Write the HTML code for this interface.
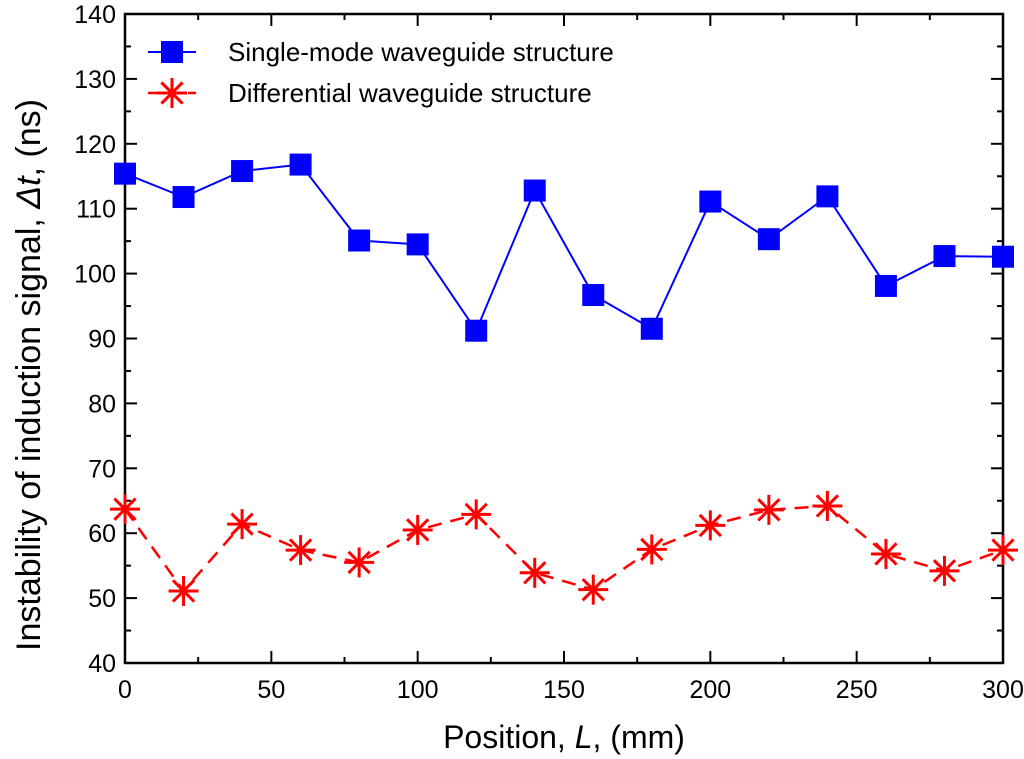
<!DOCTYPE html>
<html><head><meta charset="utf-8"><style>body{margin:0;background:#fff}svg{display:block}text{font-family:"Liberation Sans",sans-serif}</style></head>
<body>
<svg id="c" width="1024" height="759"></svg>
<script>
const positions=[0,20,40,60,80,100,120,140,160,180,200,220,240,260,280,300];
const singleMode=[115.4,111.8,115.8,116.8,105.1,104.5,91.2,112.8,96.7,91.5,111.1,105.3,111.9,98.1,102.7,102.6];
const differential=[63.7,51.1,61.4,57.4,55.5,60.5,62.9,53.9,51.3,57.5,61.2,63.6,64.2,56.8,54.2,57.4];
const xTicks=[0,50,100,150,200,250,300];
const yTicks=[40,50,60,70,80,90,100,110,120,130,140];
const L=125,R=1003,T=14,B=663;
const sx=v=>L+(v-0)/300*(R-L), sy=v=>B-(v-40)/100*(B-T);
const svg=document.getElementById('c');const NS='http://www.w3.org/2000/svg';
function el(t,a,p){const e=document.createElementNS(NS,t);for(const k in a)e.setAttribute(k,a[k]);(p||svg).appendChild(e);return e;}
let g=el('g',{});
let fr=el('rect',{x:L,y:T,width:R-L,height:B-T,fill:'none',stroke:'#000','stroke-width':2.5},g);

for(let v=0;v<=300;v+=25){const x=sx(v),len=v%50===0?12:6;
el('line',{x1:x,y1:B,x2:x,y2:B-len,stroke:'#000','stroke-width':2},g);el('line',{x1:x,y1:T,x2:x,y2:T+len,stroke:'#000','stroke-width':2},g);}
for(let v=40;v<=140;v+=5){const y=sy(v),len=v%10===0?12:6;
el('line',{x1:L,y1:y,x2:L+len,y2:y,stroke:'#000','stroke-width':2},g);el('line',{x1:R,y1:y,x2:R-len,y2:y,stroke:'#000','stroke-width':2},g);}
xTicks.forEach(v=>{const t=el('text',{x:sx(v),y:B+35,'text-anchor':'middle','font-size':25},g);t.textContent=v;
});
yTicks.forEach(v=>{const t=el('text',{x:L-9,y:sy(v)+9,'text-anchor':'end','font-size':25},g);t.textContent=v;
});
let xt=el('text',{x:564,y:748,'text-anchor':'middle','font-size':32});xt.innerHTML='Position, <tspan font-style="italic">L</tspan>, (mm)';

let yt=el('text',{x:0,y:0,'text-anchor':'middle','font-size':34,transform:'translate(40,375) rotate(-90)'});yt.innerHTML='Instability of induction signal, <tspan font-style="italic">Δt</tspan>, (ns)';

function star(p,x,y,r){for(let i=0;i<4;i++){const a=i*Math.PI/4;el('line',{x1:x-r*Math.cos(a),y1:y-r*Math.sin(a),x2:x+r*Math.cos(a),y2:y+r*Math.sin(a),stroke:'#f00','stroke-width':3},p);}}
let bl=el('polyline',{points:positions.map((p,i)=>sx(p)+','+sy(singleMode[i])).join(' '),fill:'none',stroke:'#00f','stroke-width':2});

let rl=el('polyline',{points:positions.map((p,i)=>sx(p)+','+sy(differential[i])).join(' '),fill:'none',stroke:'#f00','stroke-width':2.5,'stroke-dasharray':'14,9'});

positions.forEach((p,i)=>{const m=el('rect',{x:sx(p)-11,y:sy(singleMode[i])-11,width:22,height:22,fill:'#00f'});

const s=el('g',{});star(s,sx(p),sy(differential[i]),15);});
let lg=el('g',{});
el('line',{x1:148,y1:52,x2:196,y2:52,stroke:'#00f','stroke-width':2},lg);el('rect',{x:161,y:41,width:22,height:22,fill:'#00f'},lg);
let t1=el('text',{x:228,y:61,'font-size':26},lg);t1.textContent='Single-mode waveguide structure';
el('line',{x1:148,y1:93,x2:196,y2:93,stroke:'#f00','stroke-width':2.5,'stroke-dasharray':'12,8'},lg);star(lg,172,93,15);
let t2=el('text',{x:228,y:102,'font-size':26},lg);t2.textContent='Differential waveguide structure';
</script>
</body></html>
